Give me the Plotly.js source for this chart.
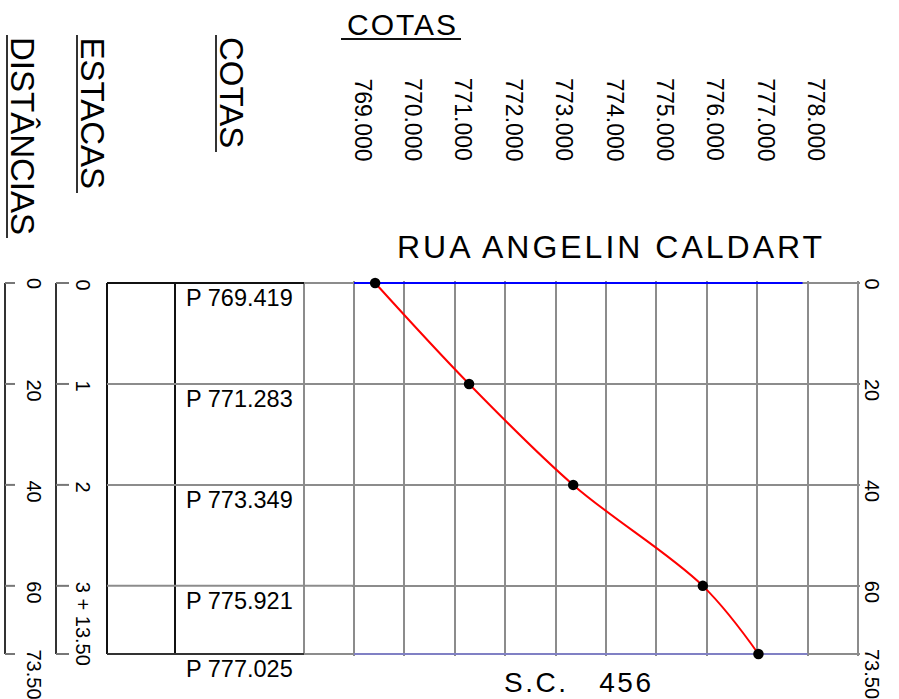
<!DOCTYPE html>
<html>
<head>
<meta charset="utf-8">
<script src="https://cdn.plot.ly/plotly-3.0.1.min.js"></script>
<style>
html, body { margin: 0; padding: 0; background: #ffffff; }
#chart { width: 899px; height: 699px; }
</style>
</head>
<body>
<div id="chart"></div>
<script>
// ---------------- DATA ----------------
const distances = [0, 20, 40, 60, 73.5];                 // DISTÂNCIAS (m)
const cotas = [769.419, 771.283, 773.349, 775.921, 777.025]; // COTAS (m)
const distanceLabels = ['0', '20', '40', '60', '73.50'];
const stationLabels = ['0', '1', '2', '3 + 13.50'];      // ESTACAS (placed at distances[0..3])
const cotaTickVals = [769, 770, 771, 772, 773, 774, 775, 776, 777, 778];
const cotaTickText = ['769.000', '770.000', '771.000', '772.000', '773.000', '774.000', '775.000', '776.000', '777.000', '778.000'];
const gridCotas = [769, 770, 771, 772, 773, 774, 775, 776, 777, 778, 779];
const refTopX = [769, 777.9];
const refTopY = [0, 0];
const refBottomX = [769, 778];
const refBottomY = [73.5, 73.5];
const titleText = 'RUA ANGELIN CALDART';
const footerText = 'S.C.\u00a0\u00a0\u00a0456';
const headerCotas = 'COTAS';
const headerEstacas = 'ESTACAS';
const headerDistancias = 'DISTÂNCIAS';

// ---------------- LAYOUT GEOMETRY ----------------
const FIG_W = 899, FIG_H = 699;
const L = 352, R = 860, T = 281, B = 656;
const W = R - L, H = B - T;
const X_RANGE = [768.96, 779.04];
const Y_RANGE = [73.9, -0.4];
const FONT = 'Liberation Sans, Arial, Helvetica, sans-serif';
const GRID = '#8c8c8c';

const px = p => (p - L) / W;                 // pixel x -> paper
const py = p => (B - p) / H;                 // pixel y -> paper
const pyd = d => (Y_RANGE[0] - d) / (Y_RANGE[0] - Y_RANGE[1]); // distance -> paper
const spaced = (s, ls) => '<span style="letter-spacing:' + ls + 'px">' + s + '</span>';

const shapes = [];
function seg(x0, y0, x1, y1, color, width) {
  shapes.push({type: 'line', xref: 'paper', yref: 'paper', x0: x0, y0: y0, x1: x1, y1: y1,
               line: {color: color, width: width}, layer: 'above'});
}
const annotations = [];
function ann(o) {
  annotations.push(Object.assign({showarrow: false, borderpad: 0,
    font: {family: FONT, size: 20, color: '#000'}}, o));
}

// table frame
const dTop = distances[0], dBot = distances[distances.length - 1];
seg(px(107), pyd(dTop), px(107), pyd(dBot), '#111', 2);
seg(px(175), pyd(dTop), px(175), pyd(dBot), '#111', 2);
seg(px(304), pyd(dTop), px(304), pyd(dBot), GRID, 2);
seg(px(107), pyd(dTop), px(304), pyd(dTop), '#111', 2);
seg(px(304), pyd(dTop), px(354), pyd(dTop), GRID, 2);
seg(px(107), pyd(dBot), px(304), pyd(dBot), '#333', 2);
seg(px(304), pyd(dBot), px(354), pyd(dBot), GRID, 2);
distances.slice(1, -1).forEach(d => seg(px(107), pyd(d), px(354), pyd(d), GRID, 2));

// brackets (distances and stations)
seg(px(5), pyd(dTop), px(5), pyd(dBot), '#333', 2);
seg(px(56), pyd(dTop), px(56), pyd(dBot), '#333', 2);
distances.forEach(d => {
  seg(px(5), pyd(d), px(15), pyd(d), '#777', 2);
  seg(px(56), pyd(d), px(69), pyd(d), '#777', 2);
});

// header underlines
seg(px(216), py(35), px(216), py(152), '#333', 2);
seg(px(77), py(35), px(77), py(193), '#333', 2);
seg(px(7), py(35), px(7), py(238), '#333', 2);
seg(px(341), py(39), px(461), py(39), '#111', 2);

// rotated headers
ann({text: headerCotas, xref: 'paper', yref: 'paper', x: px(231.5), y: py(36), xanchor: 'center', yanchor: 'top', textangle: 90, font: {family: FONT, size: 33, color: '#000'}});
ann({text: headerEstacas, xref: 'paper', yref: 'paper', x: px(92.5), y: py(36), xanchor: 'center', yanchor: 'top', textangle: 90, font: {family: FONT, size: 33, color: '#000'}});
ann({text: headerDistancias, xref: 'paper', yref: 'paper', x: px(23), y: py(36), xanchor: 'center', yanchor: 'top', textangle: 90, font: {family: FONT, size: 33, color: '#000'}});

// top header and cota tick labels
ann({text: spaced(headerCotas, 2), xref: 'paper', yref: 'paper', x: px(402.5), y: py(24), xanchor: 'center', yanchor: 'middle', font: {family: FONT, size: 30, color: '#000'}});
cotaTickVals.forEach((v, i) => ann({text: cotaTickText[i], xref: 'x', yref: 'paper', x: v, xshift: 8,
  y: py(77), xanchor: 'center', yanchor: 'top', textangle: 90, font: {family: FONT, size: 23, color: '#000'}}));

// title and footer
ann({text: spaced(titleText, 3), xref: 'paper', yref: 'paper', x: px(611), y: py(247), xanchor: 'center', yanchor: 'middle', font: {family: FONT, size: 32, color: '#000'}});
ann({text: spaced(footerText, 2.5), xref: 'paper', yref: 'paper', x: px(579), y: py(682), xanchor: 'center', yanchor: 'middle', font: {family: FONT, size: 28, color: '#000'}});

// distance labels left and right, station labels
distances.forEach((d, i) => {
  ann({text: distanceLabels[i], xref: 'paper', yref: 'y', x: px(34.5), y: d, yshift: 6, xanchor: 'center', yanchor: 'top', textangle: 90});
  ann({text: distanceLabels[i], xref: 'paper', yref: 'y', x: px(872), y: d, yshift: 6, xanchor: 'center', yanchor: 'top', textangle: 90});
});
stationLabels.forEach((s, i) => {
  ann({text: s, xref: 'paper', yref: 'y', x: px(83), y: distances[i], yshift: 5, xanchor: 'center', yanchor: 'top', textangle: 90});
});

// elevation labels in table
cotas.forEach((c, i) => {
  ann({text: 'P ' + c.toFixed(3), xref: 'paper', yref: 'y', x: px(185), y: distances[i], yshift: -15,
       xanchor: 'left', yanchor: 'middle', font: {family: FONT, size: 23.5, color: '#000'}});
});

// ---------------- TRACES ----------------
const traces = [
  {x: refTopX, y: refTopY, mode: 'lines', line: {color: '#0000ff', width: 2}, hoverinfo: 'skip', showlegend: false},
  {x: refBottomX, y: refBottomY, mode: 'lines', line: {color: '#8080c4', width: 2}, hoverinfo: 'skip', showlegend: false},
  {x: cotas, y: distances, mode: 'lines+markers', cliponaxis: false,
   line: {color: '#ff0000', width: 2, shape: 'spline', smoothing: 1},
   marker: {color: '#000000', size: 10.5}, showlegend: false}
];

const layout = {
  width: FIG_W, height: FIG_H,
  margin: {l: L, r: FIG_W - R, t: T, b: FIG_H - B, pad: 0},
  paper_bgcolor: '#ffffff', plot_bgcolor: '#ffffff',
  showlegend: false,
  xaxis: {range: X_RANGE, tickmode: 'array', tickvals: gridCotas, showticklabels: false, ticks: '',
          showgrid: true, gridcolor: GRID, gridwidth: 2, zeroline: false, showline: false, fixedrange: true},
  yaxis: {range: Y_RANGE, tickmode: 'array', tickvals: distances, showticklabels: false, ticks: '',
          showgrid: true, gridcolor: GRID, gridwidth: 2, zeroline: false, showline: false, fixedrange: true},
  shapes: shapes,
  annotations: annotations
};

Plotly.newPlot('chart', traces, layout, {displayModeBar: false, staticPlot: true});
</script>
</body>
</html>
